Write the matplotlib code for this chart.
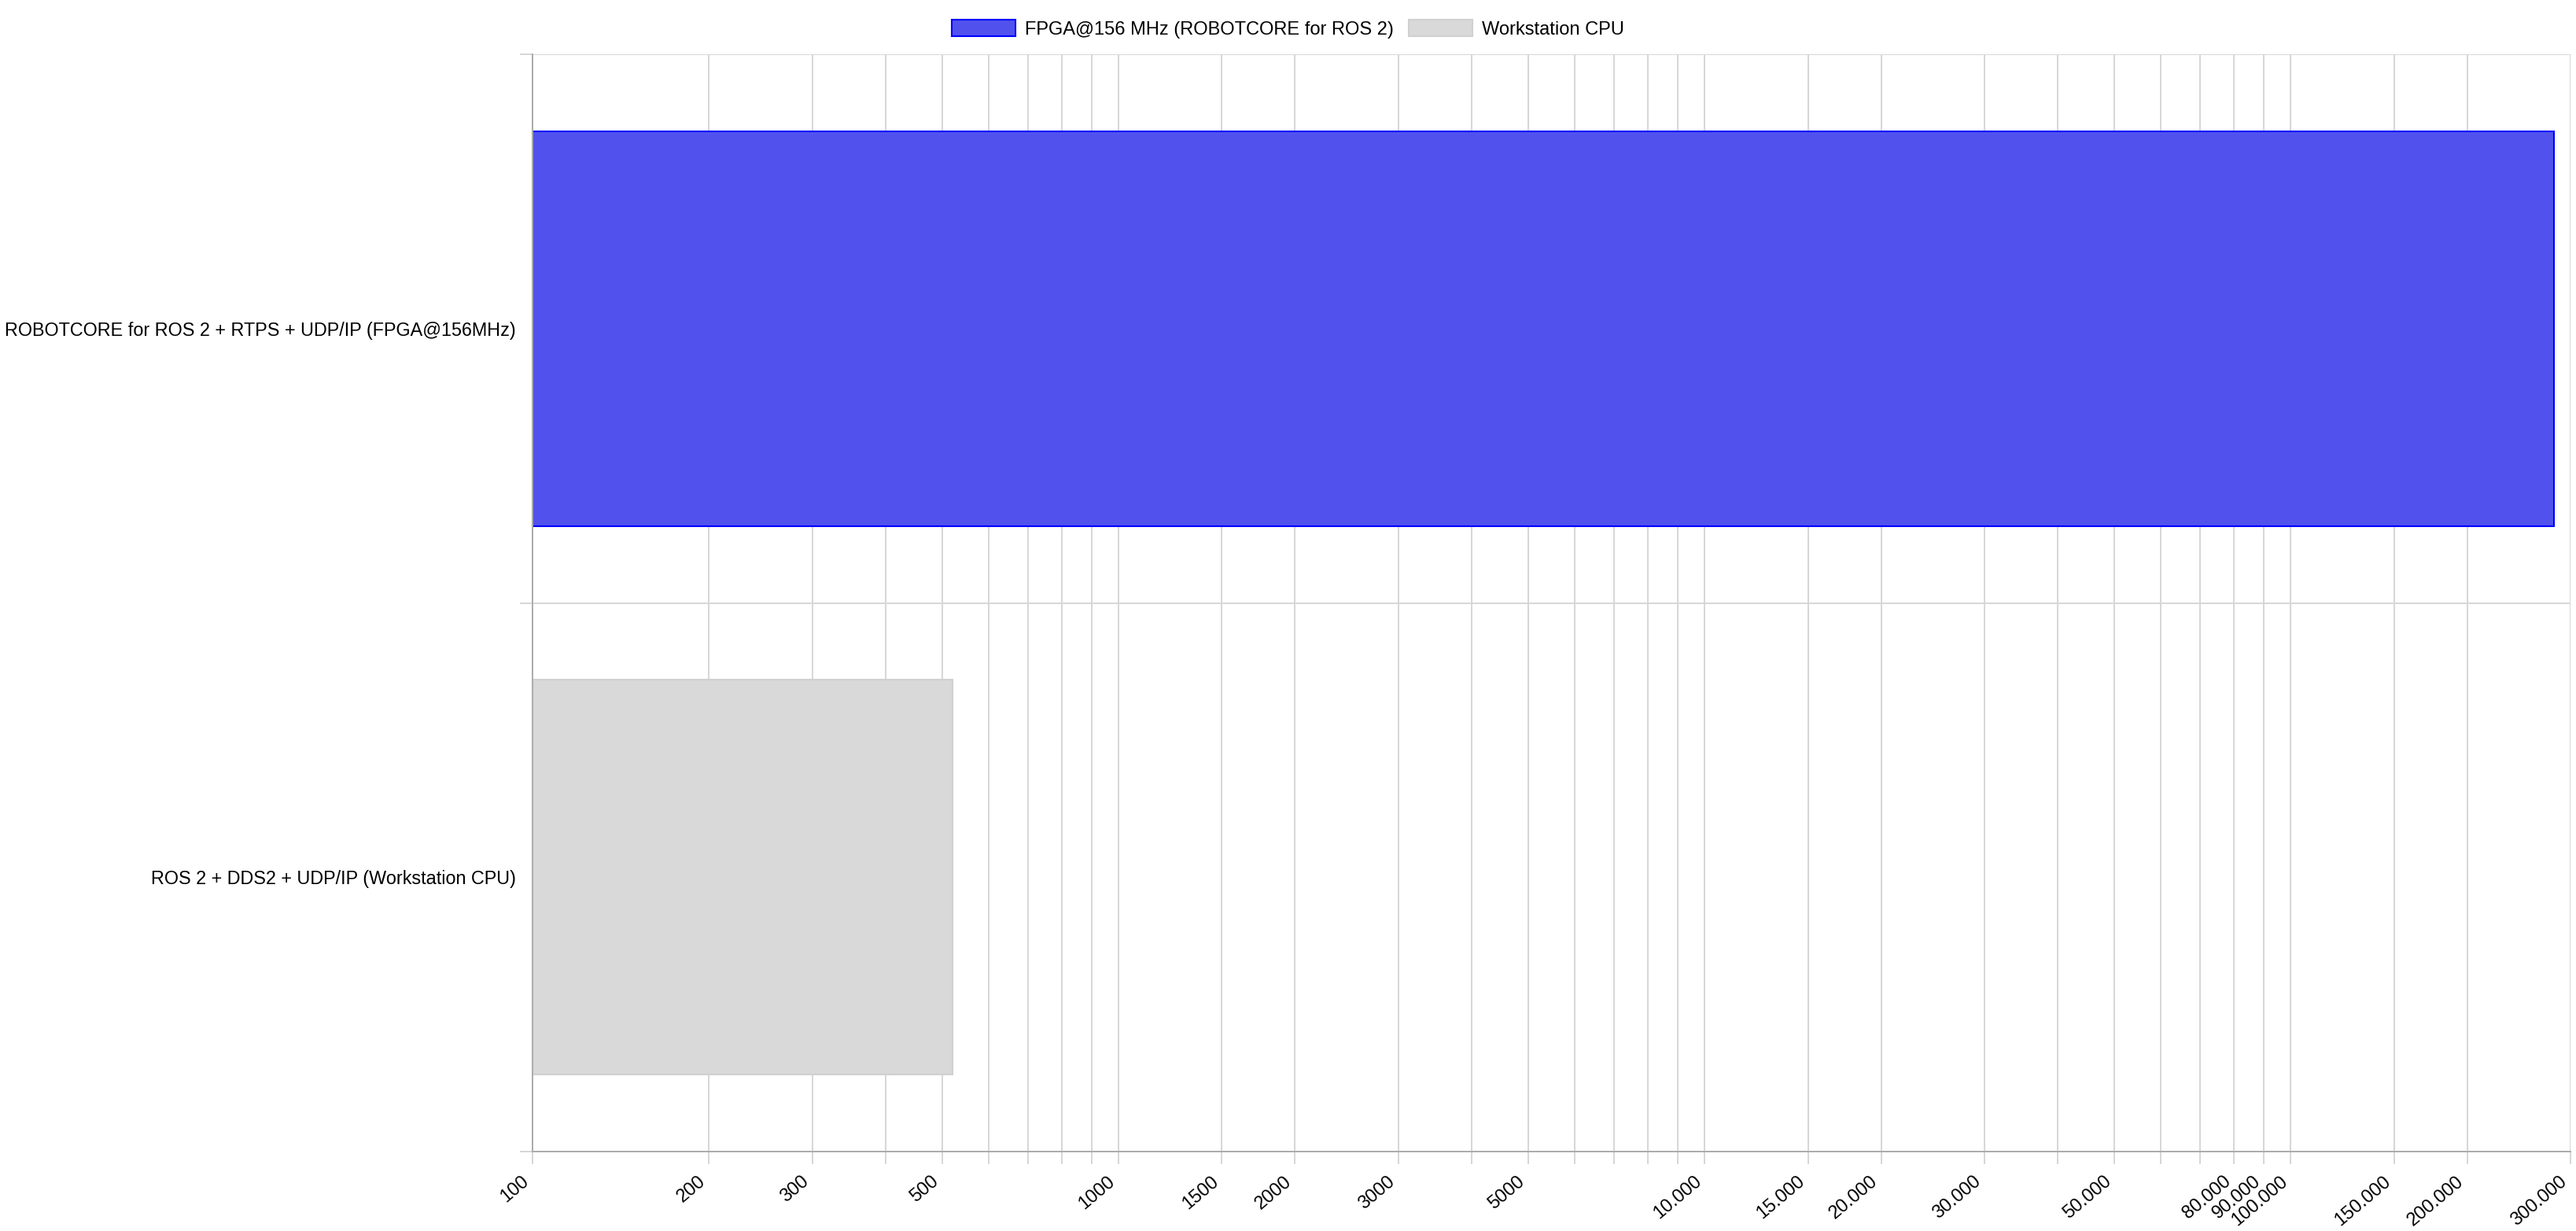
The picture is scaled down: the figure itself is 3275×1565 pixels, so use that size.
import matplotlib.pyplot as plt
from matplotlib.ticker import FixedLocator, FixedFormatter, NullLocator

# datos del gráfico
categories = [
    "ROBOTCORE for ROS 2 + RTPS + UDP/IP (FPGA@156MHz)",
    "ROS 2 + DDS2 + UDP/IP (Workstation CPU)",
]
series_names = ["FPGA@156 MHz (ROBOTCORE for ROS 2)", "Workstation CPU"]
fpga_values = [281000, None]
cpu_values = [None, 520]

grid_values = [100, 200, 300, 400, 500, 600, 700, 800, 900,
               1000, 1500, 2000, 3000, 4000, 5000, 6000, 7000, 8000, 9000,
               10000, 15000, 20000, 30000, 40000, 50000, 60000, 70000, 80000, 90000,
               100000, 150000, 200000, 300000]
tick_labels = ["100", "200", "300", "", "500", "", "", "", "",
               "1000", "1500", "2000", "3000", "", "5000", "", "", "", "",
               "10.000", "15.000", "20.000", "30.000", "", "50.000", "", "", "80.000", "90.000",
               "100.000", "150.000", "200.000", "300.000"]

x_min, x_max = 100, 300000

plt.rcParams['font.family'] = ['Liberation Sans', 'DejaVu Sans']
FS = 17
grid_color = '#D6D6D6'
axis_color = '#ABABAB'

W, H = 3275, 1565
fig = plt.figure(figsize=(W / 100, H / 100), dpi=100)
ax = fig.add_axes([677 / W, 1 - 1464 / H, (3268 - 677) / W, (1464 - 69) / H])
ax.set_xscale('log')

handles = []
for vals, name, face, edge in [(fpga_values, series_names[0], '#5152EE', '#0000FF'),
                               (cpu_values, series_names[1], '#D9D9D9', '#D0D0D0')]:
    ys = [i for i, v in enumerate(vals) if v is not None]
    ws = [v - x_min for v in vals if v is not None]
    b = ax.barh(ys, ws, left=x_min, height=0.72, color=face, edgecolor=edge,
                linewidth=1.5, label=name, zorder=2)
    handles.append(b)

ax.set_xlim(x_min, x_max)
ax.set_ylim(1.5, -0.5)

# eje x
ax.xaxis.set_major_locator(FixedLocator(grid_values))
ax.xaxis.set_major_formatter(FixedFormatter(tick_labels))
ax.xaxis.set_minor_locator(NullLocator())
ax.tick_params(axis='x', which='major', length=11.5, width=1.4, color=grid_color,
               pad=8, labelsize=FS)
for lab in ax.get_xticklabels():
    lab.set_rotation(40)
    lab.set_ha('right')
    lab.set_va('top')
ax.xaxis.grid(True, which='major', color=grid_color, linewidth=1.4)

# eje y
ax.set_yticks(range(len(categories)))
ax.set_yticklabels(categories, fontsize=16.8)
ax.set_yticks([-0.5, 0.5, 1.5], minor=True)
ax.tick_params(axis='y', which='major', length=0, pad=15)
ax.tick_params(axis='y', which='minor', length=11.5, width=1.4, color=grid_color)
ax.yaxis.grid(True, which='minor', color=grid_color, linewidth=1.4)
ax.set_axisbelow(True)

for s in ['top', 'right']:
    ax.spines[s].set_visible(False)
for s in ['left', 'bottom']:
    ax.spines[s].set_color(axis_color)
    ax.spines[s].set_linewidth(1.4)

fig.legend(handles=handles, labels=series_names, loc='center',
           bbox_to_anchor=(0.5, 1 - 37 / H), ncol=2, frameon=False, fontsize=FS,
           handlelength=3.43, handleheight=1.0, handletextpad=0.5,
           columnspacing=0.8, borderpad=0)

fig.savefig('out.png', dpi=100)
